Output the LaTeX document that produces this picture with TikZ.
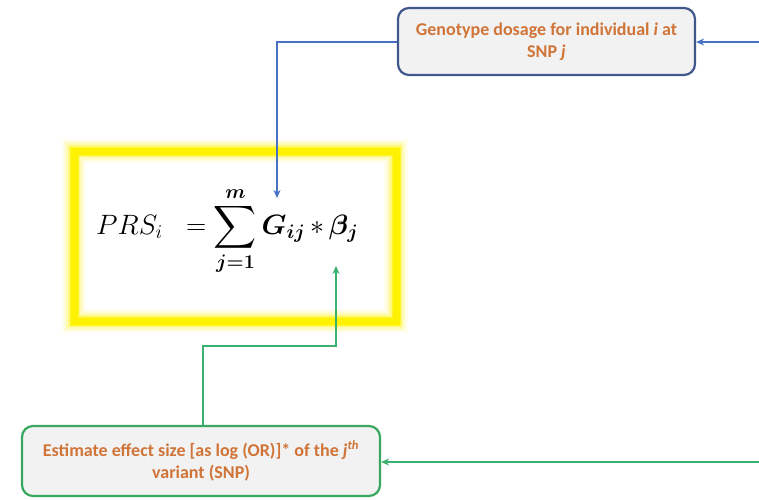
\RequirePackage{fix-cm}
\documentclass[tikz,border=0pt]{standalone}
\usepackage{amsmath}
\usepackage{bm}
\usepackage{graphicx}
\usepackage{fontspec}
\setsansfont{Carlito}
\usetikzlibrary{arrows.meta}

\definecolor{txtorange}{RGB}{208,116,56}
\definecolor{boxfill}{RGB}{242,242,242}
\definecolor{blueedge}{RGB}{64,88,140}
\definecolor{blueline}{RGB}{72,112,196}
\definecolor{greenedge}{RGB}{56,168,96}
\definecolor{greenline}{RGB}{60,176,110}
\definecolor{glow}{RGB}{255,242,0}

\newcommand{\bigsum}{\mathop{\vcenter{\hbox{\scalebox{1.2}{$\displaystyle\sum$}}}}\limits}

\tikzset{
  infobox/.style={draw, fill=boxfill, rounded corners=11pt, line width=2.2pt,
    align=center, font=\sffamily\bfseries\fontsize{18}{22}\selectfont,
    text=txtorange, inner sep=0pt},
  blueconn/.style={draw=blueline, line width=1.1pt,
    -{Stealth[length=8pt,width=7pt]}},
  greenconn/.style={draw=greenline, line width=1.3pt,
    -{Stealth[length=8pt,width=7pt]}},
}

\begin{document}
\begin{tikzpicture}[x=1pt,y=-1pt]
  \useasboundingbox (0,0) rectangle (759,499);

  % glowing frame around the formula
  \foreach \w/\o in {24/0.06, 20/0.1, 16/0.16, 12/0.3, 9/0.6}
    \draw[glow, line width=\w pt, opacity=\o] (74,151) rectangle (396,321);
  \draw[glow, line width=7pt] (74,151) rectangle (396,321);

  % the score formula
  \node[anchor=base west, inner sep=0pt, font=\fontsize{28}{32}\selectfont]
    (prs) at (96,234)
    {$PRS_i\;\;= \bigsum_{\bm{j=1}}^{\bm{m}} \bm{G}_{\bm{ij}}\mkern3mu{*}\mkern3mu\bm{\beta}_{\bm{j}}$};

  \coordinate (gin) at (277,198);
  \coordinate (bin) at (336,266);
  \coordinate (gx) at (203,0);
  \coordinate (gy) at (0,346);

  % genotype box
  \node[infobox, draw=blueedge, minimum width=297pt, minimum height=67pt]
    (geno) at (546.5,41.5)
    {Genotype dosage for individual \textit{i} at\\SNP \textit{j}};

  % effect size box
  \node[infobox, draw=greenedge, minimum width=358pt, minimum height=70pt]
    (eff) at (201,461)
    {Estimate effect size [as log (OR)]* of the \textit{j}\textsuperscript{\textit{th}}\\variant (SNP)};

  \coordinate (bluein) at (759,42);
  \coordinate (greenin) at (759,462);

  % connectors
  \draw[blueconn] (bluein) -- (geno.east |- bluein);
  \draw[blueconn] (geno.west |- bluein) -| (gin);
  \draw[greenconn] (greenin) -- (eff.east |- greenin);
  \draw[greenconn] (eff.north -| gx) -- (gx |- gy) -| (bin);
\end{tikzpicture}
\end{document}
